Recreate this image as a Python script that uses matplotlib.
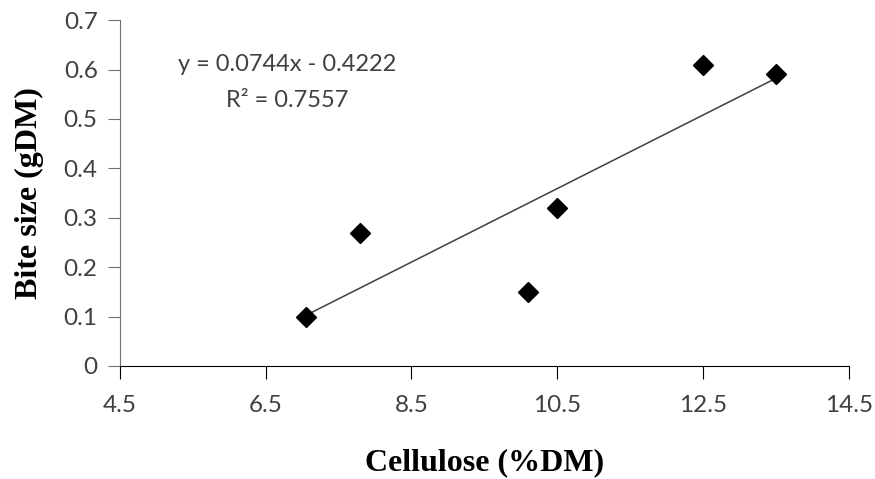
import numpy as np
import matplotlib.pyplot as plt

cellulose = [7.05, 7.8, 10.1, 10.5, 12.5, 13.5]
bite_size = [0.10, 0.27, 0.15, 0.32, 0.61, 0.59]

slope = 0.0744
intercept = -0.4222
r2 = 0.7557

fig = plt.figure(figsize=(8.75, 4.79), dpi=100)
ax = fig.add_axes([0.137, 0.236, 0.833, 0.722])

# linear trendline over the range of the data
xf = np.array([min(cellulose), max(cellulose)])
ax.plot(xf, slope * xf + intercept, color='#404040', lw=1.1, zorder=2)
ax.plot(cellulose, bite_size, 'D', color='black', markersize=10.5, zorder=3)

ax.text(6.79, 0.611, "y = %.4fx - %.4f" % (slope, -intercept), ha='center', va='center',
        fontsize=17, family='Lato', color='#404040')
ax.text(6.79, 0.538, "R\u00b2 = %.4f" % r2, ha='center', va='center',
        fontsize=17, family='Lato', color='#404040')

ax.set_xlim(4.5, 14.5)
ax.set_ylim(0, 0.7)
ax.set_xticks(np.arange(4.5, 14.6, 2))
ax.set_yticks(np.arange(0, 0.71, 0.1))
ax.set_xticklabels(['4.5', '6.5', '8.5', '10.5', '12.5', '14.5'])
ax.set_yticklabels(['0', '0.1', '0.2', '0.3', '0.4', '0.5', '0.6', '0.7'])

for s in ['top', 'right']:
    ax.spines[s].set_visible(False)
ax.spines['left'].set_color('#707070')
ax.spines['bottom'].set_color('black')
ax.tick_params(axis='y', direction='out', length=9, color='#707070', labelsize=17.5,
               labelcolor='#404040', pad=7)
ax.tick_params(axis='x', direction='out', length=9, color='black', labelsize=17.5,
               labelcolor='#404040', pad=12)
for lab in ax.get_xticklabels() + ax.get_yticklabels():
    lab.set_family('Lato')

ax.set_xlabel("Cellulose (%DM)", family='Liberation Serif', fontweight='bold',
              fontsize=23, labelpad=23)
ax.set_ylabel("Bite size (gDM)", family='Liberation Serif', fontweight='bold',
              fontsize=23, labelpad=14)

fig.savefig('out.png', dpi=100)
